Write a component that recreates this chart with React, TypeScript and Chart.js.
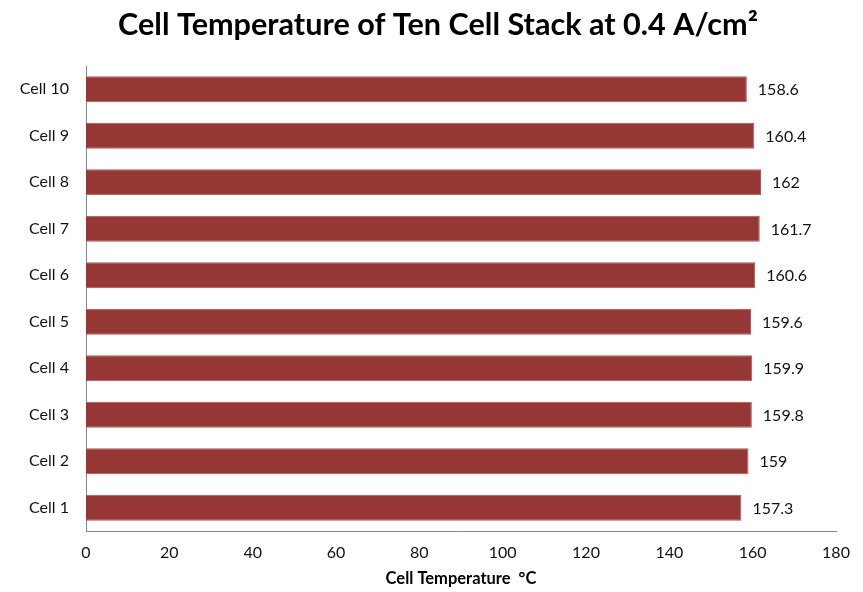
import React, { useEffect, useRef } from "react";
import { Chart, registerables } from "chart.js";

Chart.register(...registerables);

// Stack cells, bottom to top
const cells = ["Cell 1", "Cell 2", "Cell 3", "Cell 4", "Cell 5", "Cell 6", "Cell 7", "Cell 8", "Cell 9", "Cell 10"];
// Measured cell temperatures (°C)
const temperatures = [157.3, 159, 159.8, 159.9, 159.6, 160.6, 161.7, 162, 160.4, 158.6];
// Temperature axis ticks
const xMin = 0;
const xMax = 180;
const xStep = 20;

const TITLE = "Cell Temperature of Ten Cell Stack at 0.4 A/cm²";
const FONT = "Lato, 'Open Sans', 'DejaVu Sans', sans-serif";
const BAR_COLOR = "#953735";
const AXIS_COLOR = "#868686";

// Writes each bar's value just past its end
const valueLabels = {
  id: "valueLabels",
  afterDatasetsDraw(chart: any) {
    const { ctx } = chart;
    const meta = chart.getDatasetMeta(0);
    const data = chart.data.datasets[0].data as number[];
    ctx.save();
    ctx.font = `16px ${FONT}`;
    ctx.fillStyle = "#111";
    ctx.textAlign = "left";
    ctx.textBaseline = "middle";
    meta.data.forEach((bar: any, i: number) => {
      ctx.fillText(String(data[i]), bar.x + 11, bar.y + 1);
    });
    ctx.restore();
  },
};

// Chart heading, centred a little right of the canvas middle
const heading = {
  id: "heading",
  afterDraw(chart: any) {
    const { ctx } = chart;
    ctx.save();
    ctx.font = `bold 30.6px ${FONT}`;
    ctx.fillStyle = "#000";
    ctx.textAlign = "center";
    ctx.textBaseline = "middle";
    ctx.fillText(TITLE, 438, 25);
    ctx.restore();
  },
};

export default function App() {
  const canvasRef = useRef<HTMLCanvasElement | null>(null);

  useEffect(() => {
    document.body.style.margin = "0";
    const canvas = canvasRef.current;
    if (!canvas) return;
    const chart = new Chart(canvas, {
      type: "bar",
      data: {
        labels: cells,
        datasets: [
          {
            data: temperatures,
            backgroundColor: BAR_COLOR,
            borderColor: "#a85a58",
            borderWidth: 1,
            barPercentage: 0.56,
            categoryPercentage: 1,
          },
        ],
      },
      plugins: [valueLabels, heading],
      options: {
        indexAxis: "y",
        animation: false,
        responsive: false,
        maintainAspectRatio: false,
        layout: { padding: { left: 0, right: 27, top: 66, bottom: 0 } },
        plugins: {
          legend: { display: false },
          tooltip: { enabled: false },
          title: { display: false },
        },
        scales: {
          x: {
            type: "linear",
            min: xMin,
            max: xMax,
            ticks: {
              stepSize: xStep,
              color: "#111",
              font: { family: FONT, size: 16 },
              padding: 12,
            },
            grid: { display: false, drawTicks: false },
            border: { display: true, color: AXIS_COLOR, width: 1 },
            title: {
              display: true,
              text: "Cell Temperature  °C",
              color: "#000",
              font: { family: FONT, size: 16.5, weight: "bold" },
              padding: { top: 8, bottom: 3 },
            },
            afterFit(scale: any) {
              scale.height = 61;
            },
          },
          y: {
            reverse: true,
            ticks: {
              color: "#111",
              font: { family: FONT, size: 16 },
              padding: 17,
            },
            grid: { display: false, drawTicks: false },
            border: { display: true, color: AXIS_COLOR, width: 1 },
            afterFit(scale: any) {
              scale.width = 86;
            },
          },
        },
      },
    });
    return () => chart.destroy();
  }, []);

  return (
    <div style={{ width: 863, height: 592, background: "#fff" }}>
      <canvas ref={canvasRef} width={863} height={592} />
    </div>
  );
}
